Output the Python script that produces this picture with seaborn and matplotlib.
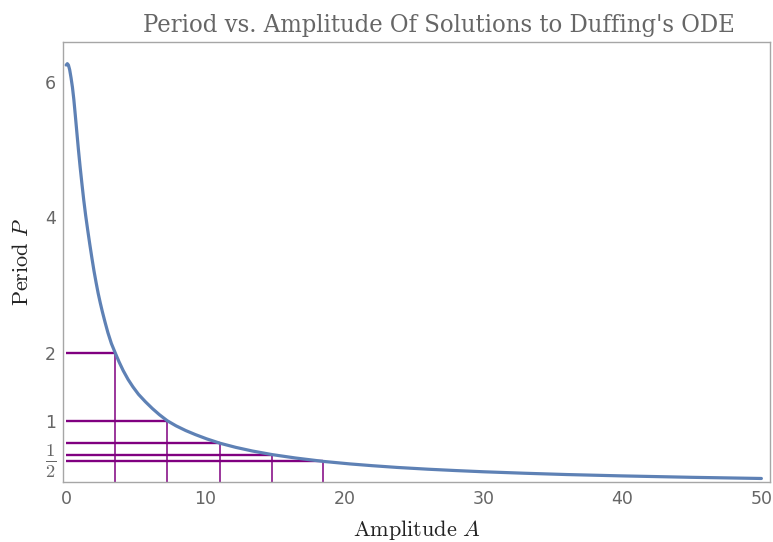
import numpy as np
import pandas as pd
import matplotlib
matplotlib.use("Agg")
import matplotlib.pyplot as plt
import seaborn as sns

# Curve: amplitude A vs period P
amplitude = [0.00, 0.08, 0.16, 0.25, 0.35, 0.45, 0.55, 0.65, 0.76, 0.88, 1.00, 1.13,
             1.26, 1.40, 1.55, 1.70, 1.85, 2.00, 2.15, 2.30, 2.45, 2.60, 2.80, 3.00,
             3.25, 3.53, 3.80, 4.10, 4.45, 4.80, 5.20, 5.70, 6.20, 6.70, 7.27, 7.90,
             8.60, 9.30, 10.10, 11.08, 12.20, 13.40, 14.82, 16.50, 18.49, 20.40, 22.00,
             23.80, 26.00, 28.00, 30.00, 33.00, 36.00, 40.00, 45.00, 50.00]
period = [6.25, 6.27, 6.25, 6.18, 6.06, 5.92, 5.74, 5.52, 5.27, 5.00, 4.75, 4.50,
          4.26, 4.03, 3.81, 3.60, 3.40, 3.21, 3.04, 2.88, 2.74, 2.61, 2.45, 2.30,
          2.14, 2.00, 1.87, 1.74, 1.61, 1.50, 1.39, 1.28, 1.18, 1.09, 1.00, 0.925,
          0.855, 0.795, 0.733, 0.667, 0.607, 0.553, 0.500, 0.450, 0.400, 0.363, 0.337,
          0.311, 0.285, 0.265, 0.247, 0.225, 0.206, 0.186, 0.165, 0.148]

# Marked periods P = 2/n and the amplitudes where they occur
mark_period = [2.0, 1.0, 2 / 3, 0.5, 0.4]
mark_amplitude = [3.53, 7.27, 11.08, 14.82, 18.49]

y_ticks = [0.5, 1, 2, 4, 6]
y_tick_labels = [r"$\frac{\mathsf{1}}{\mathsf{2}}$", "1", "2", "4", "6"]
x_ticks = [0, 10, 20, 30, 40, 50]

sns.set_style("white")
plt.rcParams["mathtext.fontset"] = "cm"

df = pd.DataFrame({"A": amplitude, "P": period})

fig = plt.figure(figsize=(7.73, 5.42), dpi=100)
ax = fig.add_axes([63 / 773, 1 - 482 / 542, (770 - 63) / 773, (482 - 42) / 542])

purple = "#800080"
ax.hlines(mark_period, 0, mark_amplitude, color=purple, lw=1.7, zorder=2)
ax.vlines(mark_amplitude, 0, mark_period, color=purple, lw=1.1, zorder=2)

sns.lineplot(data=df, x="A", y="P", ax=ax, color="#5E81B5", lw=2.3, zorder=3)

ax.set_xlim(-0.23, 50.62)
ax.set_ylim(0.096, 6.59)
ax.set_xticks(x_ticks)
ax.set_xticklabels([str(t) for t in x_ticks])
ax.set_yticks(y_ticks)
ax.set_yticklabels(y_tick_labels)

ax.tick_params(axis="both", direction="in", length=4, width=0.8, color="#999999",
               labelcolor="#666666", labelsize=12.5)
ax.tick_params(axis="x", pad=6)
ax.tick_params(axis="y", pad=5)
ax.get_yticklabels()[0].set_fontsize(19)
for s in ax.spines.values():
    s.set_color("#a6a6a6")
    s.set_linewidth(1.0)
    s.set_visible(True)

ax.set_xlabel(r"$\mathrm{Amplitude}\ A$", fontsize=16, color="#222222", labelpad=7)
ax.set_ylabel(r"$\mathrm{Period}\ P$", fontsize=16, color="#222222", labelpad=9)
ax.set_title("Period vs. Amplitude Of Solutions to Duffing's ODE",
             fontsize=18.3, color="#666666", family="DejaVu Serif", stretch="condensed",
             pad=7, x=0.532)

fig.savefig("out.png", dpi=100)
